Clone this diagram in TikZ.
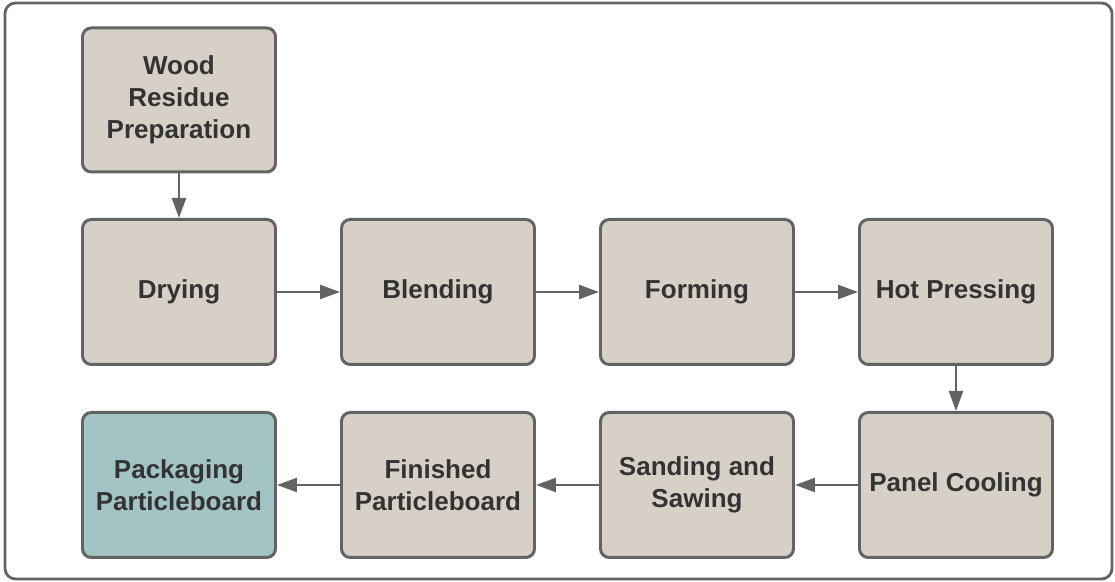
\documentclass[tikz,border=0pt]{standalone}
\usepackage{fontspec}
\setmainfont{Liberation Sans}
\usetikzlibrary{arrows.meta}

\definecolor{boxfill}{HTML}{D6D0C6}
\definecolor{packfill}{HTML}{A3C4C4}
\definecolor{edgegray}{HTML}{636363}
\definecolor{txtgray}{HTML}{333333}

\tikzset{
	procbox/.style={draw=edgegray, line width=1.7pt, fill=boxfill, rounded corners=5pt,
		minimum width=3.86cm, minimum height=2.9cm, align=center, text=txtgray,
		font=\fontsize{14.8}{18.2}\selectfont\bfseries},
	flow/.style={draw=edgegray, line width=1.4pt, -{Triangle[length=0.4cm, width=0.28cm]}}
}

\begin{document}
\begin{tikzpicture}
		\useasboundingbox (0,0) rectangle (22.3,11.64);
		\draw[edgegray, line width=1.6pt, rounded corners=6pt] (0.1,0.06) rectangle (22.24,11.58);
		% top
		\node[procbox, minimum height=2.88cm] (wood) at (3.58,9.64) {Wood\\Residue\\Preparation};
		% middle row
		\node[procbox] (drying) at (3.58,5.8) {Drying};
		\node[procbox] (blending) at (8.76,5.8) {Blending};
		\node[procbox] (forming) at (13.94,5.8) {Forming};
		\node[procbox] (hotpress) at (19.12,5.8) {Hot Pressing};
		% bottom row
		\node[procbox] (cooling) at (19.12,1.94) {Panel Cooling};
		\node[procbox] (sanding) at (13.94,1.94) {Sanding and\\Sawing};
		\node[procbox] (finished) at (8.76,1.94) {Finished\\Particleboard};
		\node[procbox, fill=packfill] (packaging) at (3.58,1.94) {Packaging\\Particleboard};
		% arrows
		\draw[flow] (wood) -- (drying);
		\draw[flow] (drying) -- (blending);
		\draw[flow] (blending) -- (forming);
		\draw[flow] (forming) -- (hotpress);
		\draw[flow] (hotpress) -- (cooling);
		\draw[flow] (cooling) -- (sanding);
		\draw[flow] (sanding) -- (finished);
		\draw[flow] (finished) -- (packaging);
	\end{tikzpicture}
\end{document}
